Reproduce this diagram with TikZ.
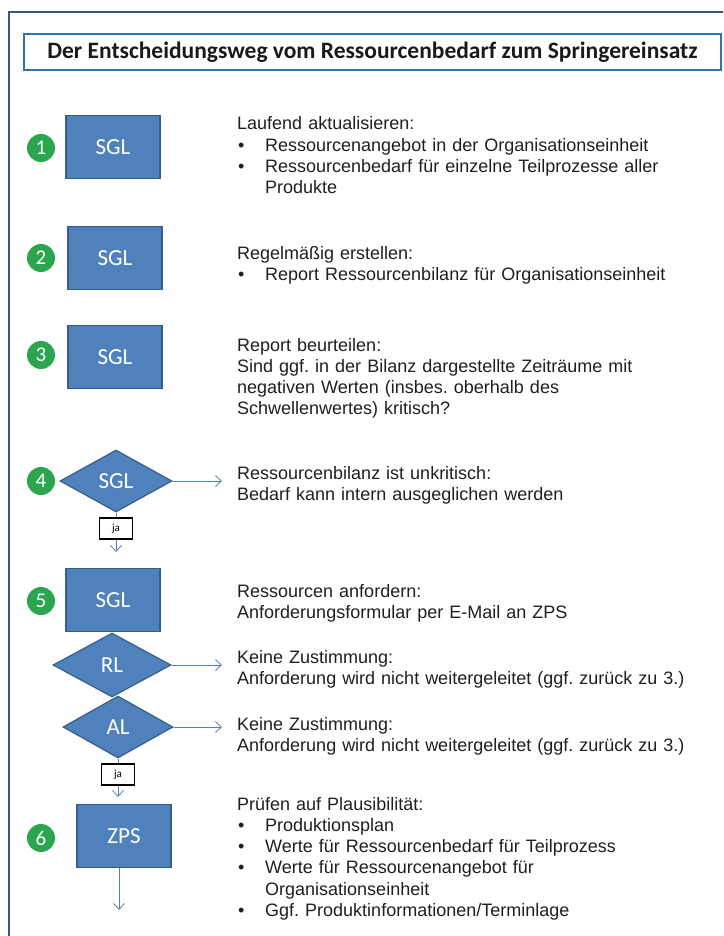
\documentclass[tikz,border=0pt]{standalone}
\usepackage{fontspec}
\setmainfont{Liberation Sans}
\newfontfamily\calibri{Carlito}
\usetikzlibrary{positioning, arrows.meta, shapes.geometric}

\definecolor{boxblue}{RGB}{79,129,189}
\definecolor{boxline}{RGB}{56,93,138}
\definecolor{framecol}{RGB}{60,85,125}
\definecolor{titleline}{RGB}{46,117,182}
\definecolor{numgreen}{RGB}{43,165,78}

% bullet line with hanging indent
\newcommand{\bul}{\par\hangindent=28pt\hangafter=1\noindent\makebox[28pt][l]{\hspace{1pt}\textbullet}}
\newcommand{\cont}{\\\hspace*{28pt}}

\begin{document}
\begin{tikzpicture}[
  x=1pt, y=-1pt,
  head/.style={draw=titleline, line width=2pt, minimum width=697pt,
    minimum height=36pt, inner sep=0pt, text=black!90,
    font=\calibri\bfseries\fontsize{23.5}{26}\selectfont},
  role/.style={draw=boxline, line width=1.5pt, fill=boxblue, text=white,
    minimum width=94pt, minimum height=63pt, inner sep=0pt,
    font=\calibri\fontsize{23}{25}\selectfont},
  choice/.style={diamond, draw=boxline, line width=1.2pt, fill=boxblue,
    text=white, inner sep=0pt, font=\calibri\fontsize{23}{25}\selectfont},
  num/.style={circle, fill=numgreen, text=white, minimum size=28pt,
    inner sep=0pt, font=\calibri\fontsize{21}{22}\selectfont},
  yes/.style={draw=black, line width=1.6pt, fill=white, minimum width=33pt,
    minimum height=21pt, inner sep=0pt, font=\calibri\fontsize{11}{12}\selectfont},
  desc/.style={anchor=base west, inner sep=0pt, text width=470pt, align=left,
    text=black!88, font=\fontsize{18}{21.3}\selectfont\frenchspacing},
  arr/.style={draw=boxblue, line width=0.8pt, -{Straight Barb[length=6pt, width=11pt]}}
]
  \clip (0,0) rectangle (723,936);
  \draw[framecol, line width=2pt] (9,950) -- (9,12) -- (740,12);

  \node[head] (title) at (372.5,52) {Der Entscheidungsweg vom Ressourcenbedarf zum Springereinsatz};

  % actors
  \node[role] (sgl1) at (113,147) {SGL};
  \node[role] (sgl2) at (115,258) {SGL};
  \node[role] (sgl3) at (115,357) {SGL};
  \node[choice, minimum width=112pt, minimum height=62pt] (sgl4) at (116,481) {SGL};
  \node[role] (sgl5) at (113,600) {SGL};
  \node[choice, minimum width=118pt, minimum height=64pt] (rl) at (112,665) {RL};
  \node[choice, minimum width=110pt, minimum height=62pt] (al) at (118,727) {AL};
  \node[role] (zps) at (124,836) {ZPS};

  \node[yes] (ja1) at (116,528.5) {ja};
  \node[yes] (ja2) at (118,774.5) {ja};

  % step numbers
  \node[num] (n1) at (41,148) {1};
  \node[num] (n2) at (41,258) {2};
  \node[num] (n3) at (41,355) {3};
  \node[num] (n4) at (41,481) {4};
  \node[num] (n5) at (41,601) {5};
  \node[num] (n6) at (41,838) {6};

  % descriptions
  \node[desc] (t1) at (237,130) {Laufend aktualisieren:\bul Ressourcenangebot in der Organisationseinheit\bul Ressourcenbedarf für einzelne Teilprozesse aller\cont Produkte};
  \node[desc] (t2) at (237,259) {Regelmäßig erstellen:\bul Report Ressourcenbilanz für Organisationseinheit};
  \node[desc] (t3) at (237,351) {Report beurteilen:\\Sind ggf. in der Bilanz dargestellte Zeiträume mit\\negativen Werten (insbes. oberhalb des\\Schwellenwertes) kritisch?};
  \node[desc] (t4) at (237,479) {Ressourcenbilanz ist unkritisch:\\Bedarf kann intern ausgeglichen werden};
  \node[desc] (t5) at (237,597) {Ressourcen anfordern:\\Anforderungsformular per E-Mail an ZPS};
  \node[desc] (t6) at (237,663) {Keine Zustimmung:\\Anforderung wird nicht weitergeleitet (ggf. zurück zu 3.)};
  \node[desc] (t7) at (237,730) {Keine Zustimmung:\\Anforderung wird nicht weitergeleitet (ggf. zurück zu 3.)};
  \node[desc] (t8) at (237,810) {Prüfen auf Plausibilität:\bul Produktionsplan\bul Werte für Ressourcenbedarf für Teilprozess\bul Werte für Ressourcenangebot für\cont Organisationseinheit\bul Ggf. Produktinformationen/Terminlage};

  \coordinate (e4) at (222,481);
  \coordinate (erl) at (222,665);
  \coordinate (eal) at (222,727);
  \coordinate (d4) at (116,552);
  \coordinate (dal) at (118,797);
  \coordinate (dz) at (119,910);

  \draw[arr] (sgl4.east) -- (e4);
  \draw[arr] (rl.east) -- (erl);
  \draw[arr] (al.east) -- (eal);
  \draw[boxblue, line width=0.8pt] (sgl4.south) -- (ja1.north);
  \draw[arr] (ja1.south) -- (d4);
  \draw[boxblue, line width=0.8pt] (al.south) -- (ja2.north);
  \draw[arr] (ja2.south) -- (dal);
  \draw[arr] ([xshift=-5pt]zps.south) -- (dz);
\end{tikzpicture}
\end{document}
